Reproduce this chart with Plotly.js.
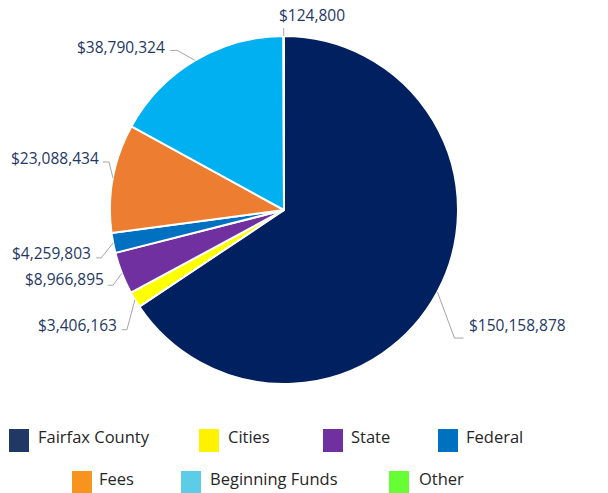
<!DOCTYPE html>
<html>
<head>
<meta charset="utf-8">
<script src="https://cdn.plot.ly/plotly-3.0.1.min.js"></script>
<style>html,body{margin:0;padding:0;background:#fff;}#chart{width:608px;height:493px;}</style>
</head>
<body>
<div id="chart"></div>
<script>
// ---- data ----
const categories = ["Fairfax County", "Cities", "State", "Federal", "Fees", "Beginning Funds", "Other"];
const values = [150158878, 3406163, 8966895, 4259803, 23088434, 38790324, 124800];
const valueLabels = ["$150,158,878", "$3,406,163", "$8,966,895", "$4,259,803", "$23,088,434", "$38,790,324", "$124,800"];

// ---- styles ----
const sliceColors = ["#002060", "#ffff00", "#7030a0", "#0070c0", "#ed7d31", "#00b0f0", "#92d050"];
const legendColors = ["#1f3864", "#fff200", "#7030a0", "#0070c0", "#f7941d", "#5bcde6", "#66ff33"];
const W = 608, H = 493;
const CX = 284, CY = 210, R = 174;
// leader-line layout per label: elbow offset from anchor, horizontal run, text offset from anchor, text anchor
const leader = [
  {ex: 17, ey: 46, h: 9, tx: 30, ty: 33, xa: "left"},
  {ex: -8, ey: 30, h: -5, tx: -16, ty: 25, xa: "right"},
  {ex: -9, ey: 12, h: -5, tx: -16, ty: 6, xa: "right"},
  {ex: -12, ey: 15, h: -5, tx: -20, ty: 10, xa: "right"},
  {ex: -4, ey: -16, h: -6, tx: -12, ty: -20, xa: "right"},
  {ex: -18, ey: -10, h: -7, tx: -28, ty: -13, xa: "right"},
  {ex: 0, ey: -8, h: 0, tx: -7, ty: -21, xa: "left"}
];
// legend layout (pixels)
const legendPos = [
  {sx: 9, sy: 429, tx: 36}, {sx: 199, sy: 429, tx: 226}, {sx: 323, sy: 429, tx: 349}, {sx: 438, sy: 429, tx: 464},
  {sx: 72, sy: 471, tx: 97}, {sx: 181, sy: 471, tx: 208}, {sx: 389, sy: 471, tx: 417}
];

const px = x => x / W;
const py = y => 1 - y / H;

const total = values.reduce((a, b) => a + b, 0);
const annotations = [];
const shapes = [];
let cum = 0;
values.forEach((v, i) => {
  const mid = (cum + v / 2) / total * 2 * Math.PI;
  cum += v;
  const ax = CX + R * Math.sin(mid);
  const ay = CY - R * Math.cos(mid);
  const L = leader[i];
  const e1x = ax + L.ex, e1y = ay + L.ey;
  const e2x = e1x + L.h, e2y = e1y;
  shapes.push({
    type: "path", xref: "paper", yref: "paper",
    path: `M ${px(ax)} ${py(ay)} L ${px(e1x)} ${py(e1y)} L ${px(e2x)} ${py(e2y)}`,
    line: {color: "#a6a6a6", width: 1}
  });
  annotations.push({
    xref: "paper", yref: "paper", x: px(ax + L.tx), y: py(ay + L.ty),
    xanchor: L.xa, yanchor: "middle", showarrow: false,
    text: valueLabels[i],
    font: {family: "Open Sans", size: 15.5, color: "#1f3864"}
  });
});

categories.forEach((c, i) => {
  const p = legendPos[i];
  shapes.push({
    type: "rect", xref: "paper", yref: "paper",
    x0: px(p.sx), x1: px(p.sx + 20), y0: py(p.sy), y1: py(p.sy + 23),
    fillcolor: legendColors[i], line: {width: 0}
  });
  annotations.push({
    xref: "paper", yref: "paper", x: px(p.tx), y: py(p.sy + 7.5),
    xanchor: "left", yanchor: "middle", showarrow: false,
    text: c, font: {family: "Open Sans", size: 16.5, color: "#262626"}
  });
});

const trace = {
  type: "pie",
  labels: categories,
  values: values,
  sort: false,
  direction: "clockwise",
  rotation: 0,
  textinfo: "none",
  hoverinfo: "label+value",
  marker: {colors: sliceColors, line: {color: "#ffffff", width: 2}},
  domain: {x: [px(CX - R), px(CX + R)], y: [py(CY + R), py(CY - R)]},
  showlegend: false
};

const layout = {
  width: W, height: H,
  margin: {l: 0, r: 0, t: 0, b: 0},
  paper_bgcolor: "#ffffff",
  showlegend: false,
  shapes: shapes,
  annotations: annotations
};

Plotly.newPlot("chart", [trace], layout, {displayModeBar: false, staticPlot: true});
</script>
</body>
</html>
